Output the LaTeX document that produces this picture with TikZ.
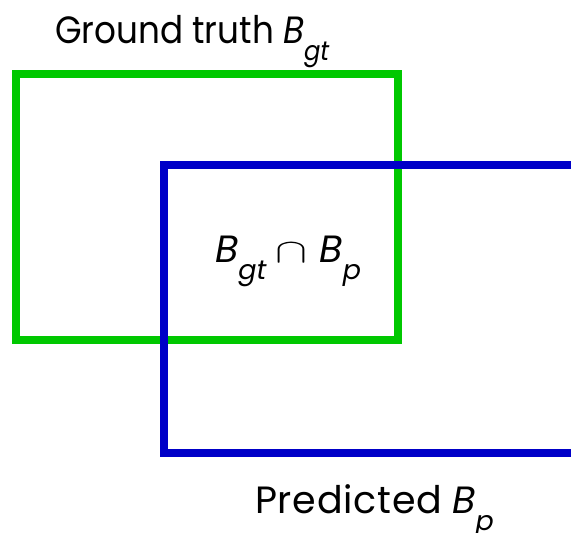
\documentclass[tikz,border=0pt]{standalone}
\usepackage{fontspec}
\usepackage{graphicx}
\setmainfont{Poppins}
\definecolor{gtgreen}{RGB}{0,200,0}
\definecolor{pblue}{RGB}{0,0,200}
\newcommand{\subtxt}[1]{\raisebox{-17pt}{\fontsize{27}{27}\selectfont\itshape #1}}
\newcommand{\capsym}{\resizebox{32pt}{19pt}{$\cap$}}
\begin{document}
\begin{tikzpicture}[x=1pt,y=-1pt,
  boxline/.style={line width=8pt},
  lbl/.style={inner sep=0pt,anchor=base west,font=\fontsize{38}{38}\selectfont}]
\useasboundingbox (0,0) rectangle (571,533);
\draw[boxline,gtgreen] (16,73.5) rectangle (397.5,340);
\begin{scope}
\clip (0,0) rectangle (571,533);
\draw[boxline,pblue] (164,165) rectangle (620,453);
\end{scope}
\node[lbl] (gt) at (55,43) {\addfontfeature{FakeStretch=0.9}Ground truth \textit{B}\subtxt{gt}};
\node[lbl] (pr) at (255,513) {{\addfontfeature{LetterSpace=2}Predicted} \textit{B}\subtxt{p}};
\node[lbl] (in) at (215,262) {\textit{B}\subtxt{gt}\hspace{9pt}\capsym\hspace{12pt}\textit{B}\subtxt{p}};
\end{tikzpicture}
\end{document}
